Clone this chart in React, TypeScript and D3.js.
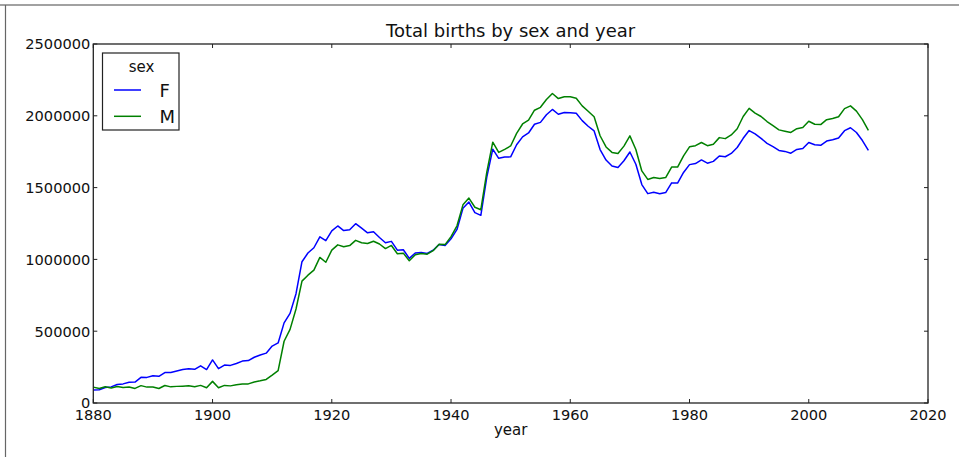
import * as d3 from 'd3'
import { useEffect, useRef } from 'react'

const years: number[] = d3.range(1880, 2011)

const femaleBirths: number[] = [
  90993, 91955, 107851, 112322, 129021, 133056, 144538, 145983, 178631, 178369,
  190377, 185486, 212350, 212908, 222923, 233632, 237924, 234199, 258771, 233022,
  299873, 239351, 264079, 261976, 275375, 291641, 295301, 318558, 334277, 347191,
  396416, 418180, 557939, 624317, 761376, 983824, 1044249, 1081194, 1157585, 1130149,
  1198214, 1232845, 1200796, 1206239, 1248821, 1217217, 1185078, 1192207, 1152836, 1116284,
  1125521, 1064233, 1066930, 1007523, 1044250, 1048395, 1040892, 1063974, 1103529, 1096336,
  1143386, 1208448, 1355452, 1399128, 1325907, 1306856, 1573227, 1767711, 1703826, 1713108,
  1714058, 1798700, 1853215, 1880322, 1940851, 1953979, 2007494, 2044160, 2010884, 2023044,
  2022018, 2017316, 1966499, 1927178, 1894482, 1765254, 1691924, 1650647, 1640081, 1686864,
  1748045, 1662452, 1521102, 1458055, 1467332, 1457699, 1465095, 1532906, 1531689, 1605210,
  1659962, 1667463, 1692687, 1669952, 1682412, 1720441, 1714800, 1737941, 1779111, 1843142,
  1897256, 1874110, 1843157, 1808377, 1784995, 1758599, 1752115, 1739797, 1765915, 1771846,
  1813960, 1798284, 1794358, 1823914, 1832925, 1845379, 1896468, 1916888, 1883645, 1827643,
  1759010,
]

const maleBirths: number[] = [
  110493, 100748, 113687, 104632, 114445, 107800, 110785, 101414, 120853, 110584,
  111025, 101196, 122037, 112319, 115775, 117398, 119575, 112760, 122703, 106218,
  150554, 106479, 122660, 119240, 127820, 132319, 133156, 146833, 154339, 163983,
  194209, 225964, 429926, 512482, 654746, 848647, 890142, 925655, 1013720, 980215,
  1064468, 1101374, 1088380, 1096227, 1132671, 1115798, 1110440, 1126259, 1107113, 1075245,
  1097207, 1039734, 1043567, 990678, 1031814, 1040779, 1036118, 1061004, 1106121, 1103000,
  1158358, 1234000, 1380000, 1427000, 1363000, 1346000, 1608000, 1816000, 1745000, 1766000,
  1790000, 1878000, 1943000, 1970000, 2039000, 2059000, 2113000, 2155000, 2120000, 2133000,
  2132000, 2122000, 2069000, 2032000, 1993000, 1861000, 1783000, 1745000, 1737000, 1789000,
  1860000, 1765000, 1616000, 1557000, 1570000, 1563000, 1570000, 1643000, 1643000, 1721000,
  1784000, 1792000, 1814000, 1792000, 1802000, 1848000, 1841000, 1867000, 1910000, 1995000,
  2052000, 2019000, 1995000, 1960000, 1931000, 1902000, 1893000, 1884000, 1910000, 1918000,
  1962000, 1941000, 1939000, 1973000, 1981000, 1993000, 2050234, 2069242, 2032310, 1973359,
  1898382,
]

const seriesNames: string[] = ['F', 'M']
const seriesColors: string[] = ['#0000ff', '#008000']
const xTicks: number[] = [1880, 1900, 1920, 1940, 1960, 1980, 2000, 2020]
const yTicks: number[] = [0, 500000, 1000000, 1500000, 2000000, 2500000]

const W = 959
const H = 457
const margin = { left: 93.3, right: 31, top: 44, bottom: 54 }
const font = '"DejaVu Sans", sans-serif'

export default function App() {
  const svgRef = useRef<SVGSVGElement>(null)

  useEffect(() => {
    document.body.style.margin = '0'
    const svg = d3.select(svgRef.current)
    svg.selectAll('*').remove()

    const x = d3.scaleLinear().domain([1880, 2020]).range([margin.left, W - margin.right])
    const y = d3.scaleLinear().domain([0, 2500000]).range([H - margin.bottom, margin.top])
    const [x0, x1] = x.range()
    const [y0, y1] = y.range()

    svg.append('rect').attr('width', W).attr('height', H).attr('fill', '#fff')

    // picture frame remnants (top / left)
    svg.append('line').attr('x1', 0).attr('x2', W).attr('y1', 5).attr('y2', 5)
      .attr('stroke', '#444').attr('stroke-width', 1.2)
    svg.append('line').attr('x1', 5.5).attr('x2', 5.5).attr('y1', 5).attr('y2', H)
      .attr('stroke', '#666').attr('stroke-width', 1.2)

    const series = [femaleBirths, maleBirths]
    const line = d3.line<number>()
      .x((_, i) => x(years[i]))
      .y(d => y(d))

    series.forEach((s, i) => {
      svg.append('path')
        .datum(s)
        .attr('d', line)
        .attr('fill', 'none')
        .attr('stroke', seriesColors[i])
        .attr('stroke-width', 1.5)
        .attr('stroke-linejoin', 'round')
    })

    // axes frame
    svg.append('rect')
      .attr('x', x0).attr('y', y1)
      .attr('width', x1 - x0).attr('height', y0 - y1)
      .attr('fill', 'none').attr('stroke', '#222').attr('stroke-width', 1.3)

    const tl = 4
    const ticks = svg.append('g').attr('stroke', '#222').attr('stroke-width', 1)
    xTicks.forEach(t => {
      ticks.append('line').attr('x1', x(t)).attr('x2', x(t)).attr('y1', y0).attr('y2', y0 - tl)
      ticks.append('line').attr('x1', x(t)).attr('x2', x(t)).attr('y1', y1).attr('y2', y1 + tl)
    })
    yTicks.forEach(t => {
      ticks.append('line').attr('x1', x0).attr('x2', x0 + tl).attr('y1', y(t)).attr('y2', y(t))
      ticks.append('line').attr('x1', x1).attr('x2', x1 - tl).attr('y1', y(t)).attr('y2', y(t))
    })

    svg.append('g').selectAll('text')
      .data(xTicks)
      .join('text')
      .attr('x', d => x(d))
      .attr('y', y0 + 17)
      .attr('text-anchor', 'middle')
      .attr('font-family', font)
      .attr('font-size', 14.6)
      .attr('fill', '#111')
      .text(d => String(d))

    svg.append('g').selectAll('text')
      .data(yTicks)
      .join('text')
      .attr('x', x0 - 3)
      .attr('y', d => y(d) + 5.3)
      .attr('text-anchor', 'end')
      .attr('font-family', font)
      .attr('font-size', 14.6)
      .attr('fill', '#111')
      .text(d => String(d))

    svg.append('text')
      .attr('x', (x0 + x1) / 2)
      .attr('y', 435)
      .attr('text-anchor', 'middle')
      .attr('font-family', font)
      .attr('font-size', 15)
      .attr('fill', '#111')
      .text('year')

    svg.append('text')
      .attr('x', (x0 + x1) / 2)
      .attr('y', 37)
      .attr('text-anchor', 'middle')
      .attr('font-family', font)
      .attr('font-size', 18)
      .attr('fill', '#111')
      .text('Total births by sex and year')

    // legend
    const lg = svg.append('g')
    lg.append('rect')
      .attr('x', 102.5).attr('y', 53)
      .attr('width', 76.5).attr('height', 77)
      .attr('fill', '#fff').attr('stroke', '#222').attr('stroke-width', 1.2)
    lg.append('text')
      .attr('x', 141.5).attr('y', 72)
      .attr('text-anchor', 'middle')
      .attr('font-family', font)
      .attr('font-size', 15)
      .attr('fill', '#111')
      .text('sex')
    seriesNames.forEach((n, i) => {
      const ly = 90 + i * 26.3
      lg.append('line')
        .attr('x1', 114).attr('x2', 141).attr('y1', ly).attr('y2', ly)
        .attr('stroke', seriesColors[i]).attr('stroke-width', 1.5)
      lg.append('text')
        .attr('x', 159.5).attr('y', ly + 7)
        .attr('font-family', font)
        .attr('font-size', 18)
        .attr('fill', '#111')
        .text(n)
    })
  }, [])

  return (
    <svg ref={svgRef} width={W} height={H} style={{ display: 'block' }} />
  )
}
